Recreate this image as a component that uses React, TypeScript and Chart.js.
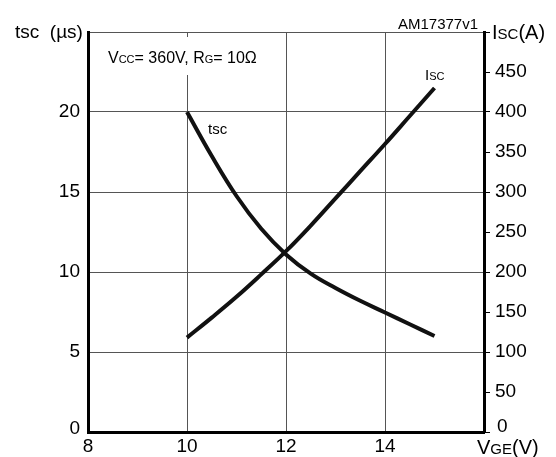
import React, { useEffect, useRef } from "react";
import { Chart, registerables } from "chart.js";

Chart.register(...registerables);

const vge = [10, 10.5, 11, 11.5, 12, 12.5, 13, 13.5, 14, 14.5, 15];
const tscValues = [20, 17.25, 14.75, 12.7, 11.1, 9.9, 9.0, 8.2, 7.47, 6.73, 6.0];
const iscValues = [118, 143, 169, 197, 226, 258, 292, 326, 360, 395, 430];

const xTicks = [8, 10, 12, 14];
const leftTicks = [5, 10, 15, 20];
const rightTicks = [50, 100, 150, 200, 250, 300, 350, 400, 450];

const FONT = "'Liberation Sans', Arial, Helvetica, sans-serif";

type Seg = { t: string; s: number };

function drawSegs(ctx: CanvasRenderingContext2D, segs: Seg[], x: number, y: number) {
  let cx = x;
  ctx.textAlign = "left";
  ctx.textBaseline = "alphabetic";
  for (const sg of segs) {
    ctx.font = `${sg.s}px ${FONT}`;
    ctx.fillText(sg.t, cx, y);
    cx += ctx.measureText(sg.t).width;
  }
}

const textPlugin = {
  id: "textPlugin",
  beforeDatasetsDraw(chart: any) {
    const ctx = chart.ctx as CanvasRenderingContext2D;
    ctx.save();
    // white box behind the condition annotation
    ctx.fillStyle = "#ffffff";
    ctx.fillRect(92, 37, 183, 38);
    ctx.fillStyle = "#000";
    drawSegs(ctx, [{ t: "V", s: 16 }, { t: "CC", s: 11 }, { t: "= 360V, R", s: 16 }, { t: "G", s: 11 }, { t: "= 10Ω", s: 16 }], 108, 63);
    ctx.restore();
  },
  afterDraw(chart: any) {
    const ctx = chart.ctx as CanvasRenderingContext2D;
    ctx.save();
    ctx.fillStyle = "#000";
    drawSegs(ctx, [{ t: "tsc  (µs)", s: 19 }], 15, 38);
    drawSegs(ctx, [{ t: "I", s: 20 }, { t: "SC", s: 15 }, { t: "(A)", s: 20 }], 492, 39);
    drawSegs(ctx, [{ t: "AM17377v1", s: 15 }], 398, 29);
    drawSegs(ctx, [{ t: "tsc", s: 15 }], 208, 134);
    drawSegs(ctx, [{ t: "I", s: 15 }, { t: "SC", s: 11 }], 425, 80);
    drawSegs(ctx, [{ t: "V", s: 20 }, { t: "GE", s: 15 }, { t: "(V)", s: 20 }], 477, 454);
    ctx.font = `19px ${FONT}`;
    ctx.textAlign = "right";
    ctx.fillText("0", 80, 434);
    ctx.textAlign = "left";
    ctx.fillText("0", 497, 432);
    ctx.restore();
  },
};

export default function App() {
  const ref = useRef<HTMLCanvasElement | null>(null);
  useEffect(() => {
    if (!ref.current) return;
    const chart = new Chart(ref.current, {
      type: "line",
      data: {
        datasets: [
          {
            label: "tsc",
            data: vge.map((v, i) => ({ x: v, y: tscValues[i] })),
            yAxisID: "y",
            borderColor: "#111",
            borderWidth: 4,
            pointRadius: 0,
            tension: 0.4,
            fill: false,
          },
          {
            label: "Isc",
            data: vge.map((v, i) => ({ x: v, y: iscValues[i] })),
            yAxisID: "y1",
            borderColor: "#111",
            borderWidth: 4,
            pointRadius: 0,
            tension: 0.4,
            fill: false,
          },
        ],
      },
      options: {
        responsive: false,
        animation: false,
        layout: { padding: { top: 32, left: 0, right: 0, bottom: 0 } },
        plugins: { legend: { display: false }, tooltip: { enabled: false } },
        scales: {
          x: {
            type: "linear",
            min: 8,
            max: 16,
            afterBuildTicks: (s: any) => {
              s.ticks = [...xTicks, 16].map((v) => ({ value: v }));
            },
            ticks: {
              callback: (v: any) => (xTicks.includes(v) ? String(v) : ""),
              font: { size: 19, family: FONT },
              color: "#000",
              padding: 3,
              maxRotation: 0,
            },
            grid: { color: "#555", lineWidth: 1, drawTicks: false },
            border: { color: "#000", width: 3 },
            afterFit: (s: any) => {
              s.height = 25;
            },
          },
          y: {
            position: "left",
            min: 0,
            max: 25,
            afterBuildTicks: (s: any) => {
              s.ticks = [0, ...leftTicks, 25].map((v) => ({ value: v }));
            },
            ticks: {
              callback: (v: any) => (leftTicks.includes(v) ? String(v) : ""),
              font: { size: 19, family: FONT },
              color: "#000",
              padding: 8,
            },
            grid: { color: "#555", lineWidth: 1, drawTicks: false },
            border: { color: "#000", width: 3 },
            afterFit: (s: any) => {
              s.width = 88;
            },
          },
          y1: {
            position: "right",
            min: 0,
            max: 500,
            afterBuildTicks: (s: any) => {
              s.ticks = [0, ...rightTicks, 500].map((v) => ({ value: v }));
            },
            ticks: {
              callback: (v: any) => (rightTicks.includes(v) ? String(v) : ""),
              font: { size: 19, family: FONT },
              color: "#000",
              padding: 5,
            },
            grid: { drawOnChartArea: false, drawTicks: true, tickLength: 6, tickColor: "#000", lineWidth: 1 },
            border: { color: "#000", width: 3 },
            afterFit: (s: any) => {
              s.width = 72;
            },
          },
        },
      },
      plugins: [textPlugin],
    } as any);
    return () => chart.destroy();
  }, []);
  return (
    <div style={{ position: "absolute", left: 0, top: 0, width: 556, height: 457, background: "#fff" }}>
      <canvas ref={ref} width={556} height={457} />
    </div>
  );
}
